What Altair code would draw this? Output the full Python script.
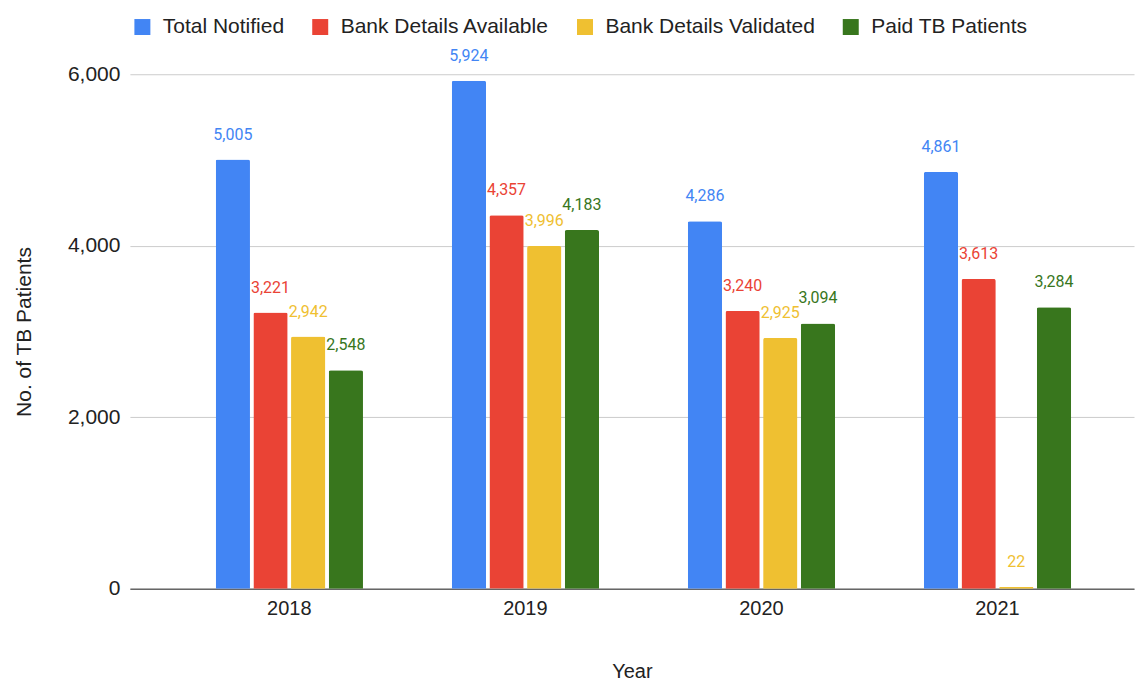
import altair as alt
import pandas as pd

years = ["2018", "2019", "2020", "2021"]
series_names = ["Total Notified", "Bank Details Available", "Bank Details Validated", "Paid TB Patients"]
total_notified = [5005, 5924, 4286, 4861]
bank_available = [3221, 4357, 3240, 3613]
bank_validated = [2942, 3996, 2925, 22]
paid_patients = [2548, 4183, 3094, 3284]
y_ticks = [0, 2000, 4000, 6000]

colors = ["#4285F4", "#EA4335", "#EFC031", "#38761D"]

rows = []
for name, vals in zip(series_names, [total_notified, bank_available, bank_validated, paid_patients]):
    for yr, v in zip(years, vals):
        rows.append({"Year": yr, "series": name, "value": v})
df = pd.DataFrame(rows)

FONT = "Liberation Sans"

x_enc = alt.X(
    "Year:N",
    sort=years,
    scale=alt.Scale(paddingInner=0.376, paddingOuter=0.315, align=0.577),
    axis=alt.Axis(
        title="Year",
        labelAngle=0,
        labelFontSize=20,
        labelFont=FONT,
        labelColor="#222222",
        labelPadding=10,
        ticks=False,
        domainColor="#666666",
        domainWidth=1.5,
        grid=False,
        titleFont=FONT,
        titleFontSize=20,
        titleFontWeight="normal",
        titleColor="#222222",
        titlePadding=43,
    ),
)
xoff_enc = alt.XOffset("series:N", sort=series_names, scale=alt.Scale(paddingInner=0.09, paddingOuter=0))
y_enc = alt.Y(
    "value:Q",
    scale=alt.Scale(domain=[0, 6000], nice=False),
    axis=alt.Axis(
        title="No. of TB Patients",
        values=y_ticks,
        format=",.0f",
        labelFontSize=21,
        labelFont=FONT,
        labelColor="#222222",
        labelPadding=10,
        ticks=False,
        domain=False,
        gridColor="#cccccc",
        gridWidth=1,
        titleFont=FONT,
        titleFontSize=21,
        titleFontWeight="normal",
        titleColor="#222222",
        titlePadding=33,
    ),
)

color_scale = alt.Scale(domain=series_names, range=colors)

bars = alt.Chart(df).mark_bar(cornerRadiusTopLeft=2, cornerRadiusTopRight=2).encode(
    x=x_enc,
    xOffset=xoff_enc,
    y=y_enc,
    color=alt.Color(
        "series:N",
        sort=series_names,
        scale=color_scale,
        legend=alt.Legend(
            title=None,
            orient="none",
            direction="horizontal",
            legendX=2,
            legendY=-58,
            symbolType="square",
            symbolSize=256,
            symbolStrokeWidth=0,
            labelFont=FONT,
            labelFontSize=21,
            labelColor="#222222",
            labelOffset=10,
            columnPadding=25,
            labelLimit=400,
        ),
    ),
)

labels = alt.Chart(df).mark_text(
    baseline="alphabetic", align="center", dy=-20, font="Roboto", fontSize=16
).encode(
    x=x_enc,
    xOffset=xoff_enc,
    y=y_enc,
    text=alt.Text("value:Q", format=","),
    color=alt.Color("series:N", sort=series_names, scale=color_scale, legend=None),
)

chart = (
    alt.layer(bars, labels)
    .resolve_scale(color="independent")
    .properties(
        width=1005,
        height=515,
        background="white",
        padding={"top": 8, "left": 5, "right": 5, "bottom": 0},
    )
    .configure_view(stroke=None)
)

chart.save("out.html", embed_options={"renderer": "svg", "actions": False})
